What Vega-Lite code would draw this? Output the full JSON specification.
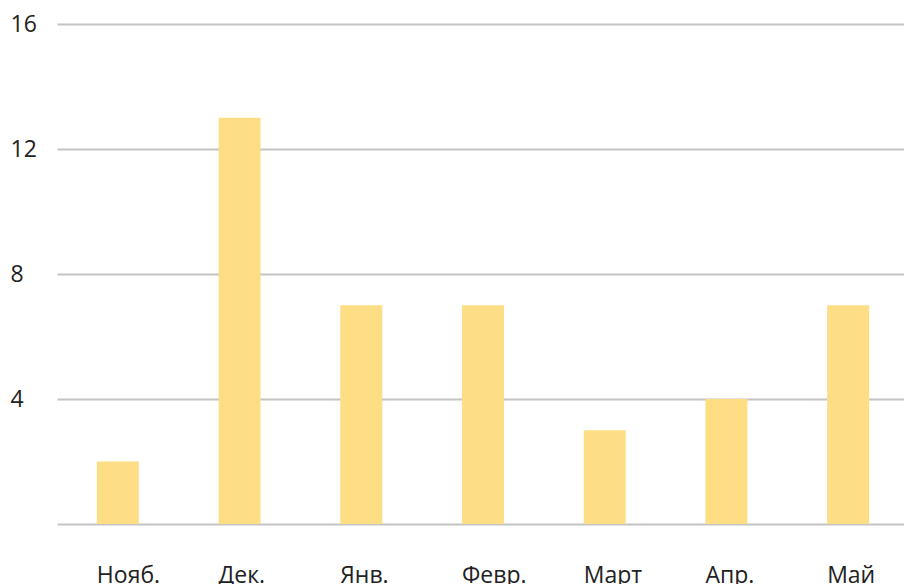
{
  "$schema": "https://vega.github.io/schema/vega-lite/v6.json",
  "width": 852,
  "height": 500,
  "autosize": "none",
  "padding": {"left": 57, "top": 24, "right": 0, "bottom": 60},
  "background": "white",
  "config": {"view": {"stroke": null}, "font": "Open Sans"},
  "data": {"values": [
    {"month": "Нояб.", "value": 2},
    {"month": "Дек.", "value": 13},
    {"month": "Янв.", "value": 7},
    {"month": "Февр.", "value": 7},
    {"month": "Март", "value": 3},
    {"month": "Апр.", "value": 4},
    {"month": "Май", "value": 7}
  ]},
  "mark": {"type": "bar", "color": "#fdde85"},
  "encoding": {
    "x": {
      "field": "month", "type": "nominal", "sort": null,
      "scale": {"paddingInner": 0.655, "paddingOuter": 0.3275},
      "axis": {"title": null, "labelAngle": 0, "domain": false, "ticks": false, "labelAlign": "left", "labelOffset": -21, "labelBaseline": "alphabetic", "labelPadding": 58, "labelFontSize": 23, "labelColor": "#222222", "labelFont": "Open Sans"}
    },
    "y": {
      "field": "value", "type": "quantitative",
      "scale": {"domain": [0, 16], "nice": false},
      "axis": {"title": null, "values": [0, 4, 8, 12, 16], "labelExpr": "datum.value == 0 ? '' : datum.label", "domain": false, "ticks": false, "grid": true, "gridColor": "#c4c4c4", "gridWidth": 2, "labelAlign": "left", "labelPadding": 47, "labelFontSize": 23, "labelColor": "#222222", "labelFont": "Open Sans"}
    }
  }
}
